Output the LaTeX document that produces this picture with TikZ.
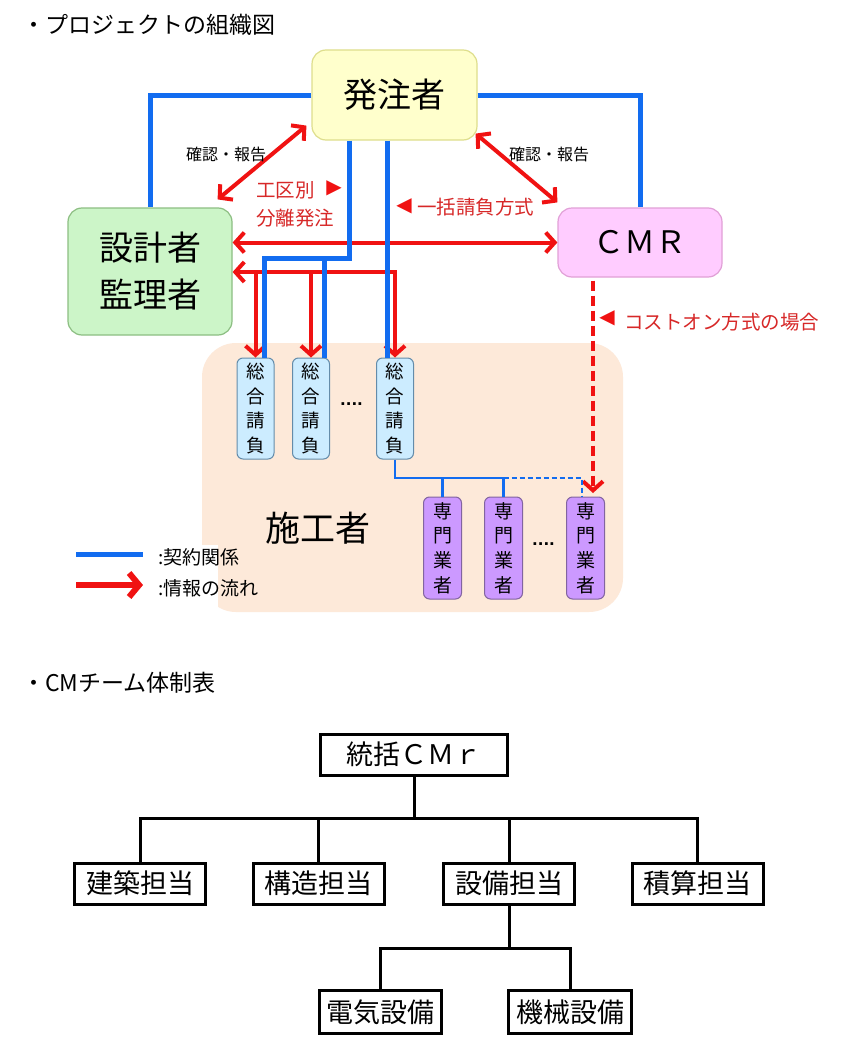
\documentclass[tikz,border=0pt]{standalone}
\usepackage{fontspec}
\setmainfont{Noto Sans CJK JP}
\newfontfamily\dejavu{DejaVu Sans}
\usetikzlibrary{arrows.meta,calc}
\newcommand\myfs[2]{\fontsize{#1}{#2}\selectfont}
\definecolor{cblue}{RGB}{18,108,240}
\definecolor{cred}{RGB}{240,18,18}
\definecolor{ctext}{RGB}{215,40,40}
\definecolor{yfill}{RGB}{255,255,204}
\definecolor{ydraw}{RGB}{222,222,140}
\definecolor{gfill}{RGB}{204,245,200}
\definecolor{gdraw}{RGB}{140,190,130}
\definecolor{pfill}{RGB}{255,204,255}
\definecolor{pdraw}{RGB}{225,160,215}
\definecolor{sfill}{RGB}{253,233,217}
\definecolor{bfill}{RGB}{204,236,255}
\definecolor{bdraw}{RGB}{100,140,170}
\definecolor{mfill}{RGB}{204,153,255}
\definecolor{mdraw}{RGB}{130,100,160}
\begin{document}
\begin{tikzpicture}[x=1pt,y=-1pt,
  >={Straight Barb[length=9pt,width=20pt]},
  rbox/.style={rounded corners=14pt, line width=1.2pt, inner sep=0pt, align=center},
  sogo/.style={draw=bdraw, fill=bfill, rounded corners=6pt, line width=1pt, minimum width=37pt, minimum height=101pt, inner sep=0pt, align=center, font=\myfs{18.5}{24.7}},
  senmon/.style={draw=mdraw, fill=mfill, rounded corners=6pt, line width=1pt, minimum width=38pt, minimum height=102pt, inner sep=0pt, align=center, font=\myfs{19}{24.7}},
  infoline/.style={draw=cred, line width=4pt},
  cline/.style={draw=cblue, line width=5pt},
  tline/.style={draw=cblue, line width=2.5pt},
  redlabel/.style={text=ctext, inner sep=0pt, anchor=west, font=\myfs{19.5}{22}},
  tri/.style={text=cred, inner sep=0pt, font=\dejavu\myfs{20}{20}},
  blacklabel/.style={inner sep=0pt, anchor=west, font=\myfs{16}{18}},
  obox/.style={draw=black, line width=3pt, fill=white, inner sep=0pt, minimum height=41pt, font=\myfs{27}{30}},
  oline/.style={draw=black, line width=3pt},
  title/.style={inner sep=0pt, anchor=west, font=\myfs{23}{25}}
]
\fill[white] (0,0) rectangle (855,1049);
\useasboundingbox (0,0) rectangle (855,1049);

% titles
\node[title] (t1) at (22,25) {・プロジェクトの組織図};
\node[title] (t2) at (22,683) {・CMチーム体制表};

% constructor region
\node[fill=sfill, rounded corners=34pt, minimum width=421pt, minimum height=269pt, inner sep=0pt] (sekou) at (412.5,477.5) {};
\fill[white] (60,545) rectangle (218,615);
\node[inner sep=0pt, font=\myfs{35}{36}] (sekoulbl) at (318,528) {施工者};

% main boxes
\node[rbox, fill=yfill, draw=ydraw, minimum width=165pt, minimum height=90pt, font=\myfs{34}{36}] (hatchu) at (394.5,95) {発注者};
\node[rbox, fill=gfill, draw=gdraw, minimum width=164pt, minimum height=127pt, font=\myfs{34}{47}] (sekkei) at (150,271.5) {設計者\\監理者};
\node[rbox, fill=pfill, draw=pdraw, minimum width=164pt, minimum height=69pt, font=\myfs{31}{32}] (cmr) at (640,242.5) {ＣＭＲ};

% general contractors
\node[sogo] (s1) at (255.5,408.5) {総\\合\\請\\負};
\node[sogo] (s2) at (311,408.5) {総\\合\\請\\負};
\node[sogo] (s3) at (395,408.5) {総\\合\\請\\負};
\node[inner sep=0pt, anchor=base, font=\dejavu\bfseries\myfs{15}{15}] (dots1) at (351.5,405) {....};

% specialists
\node[senmon] (m1) at (442.5,548) {専\\門\\業\\者};
\node[senmon] (m2) at (503.5,548) {専\\門\\業\\者};
\node[senmon] (m3) at (585.5,548) {専\\門\\業\\者};
\node[inner sep=0pt, anchor=base, font=\dejavu\bfseries\myfs{15}{15}] (dots2) at (543.5,545) {....};

% red information flows
\coordinate (rj) at (0,272);
\draw[infoline,<->] (sekkei.east |- rj) -- (s3.north |- rj) -- (s3.north);
\draw[infoline,->] (s1.north |- rj) -- (s1.north);
\draw[infoline,->] (s2.north |- rj) -- (s2.north);
\draw[infoline,<->] (sekkei.east |- cmr.west) -- (cmr.west);
\draw[infoline,<->] ([shift={(-5,-15)}]hatchu.south west) -- ([shift={(-15,-8)}]sekkei.north east);
\draw[infoline,<->] ([shift={(-2,-7)}]hatchu.south east) -- ([shift={(0,-5)}]cmr.north west);
\coordinate (dtip) at (593,493);
\draw[infoline,dash pattern=on 10pt off 5pt,->] ([yshift=-3pt]cmr.south -| dtip) -- (dtip);

% blue contract lines
\draw[cline] (hatchu.west) -| (sekkei.north);
\draw[cline] (hatchu.east) -| (cmr.north);
\coordinate (bj) at (349,258);
\coordinate (s1b) at ([xshift=9pt]s1.north);
\coordinate (s2b) at ([xshift=13pt]s2.north);
\coordinate (s3b) at ([xshift=-8pt]s3.north);
\draw[cline] (hatchu.south -| bj) -- (bj) -- (s1b |- bj) -- (s1b);
\draw[cline] (s2b |- bj) -- (s2b);
\draw[cline] (hatchu.south -| s3b) -- (s3b);

% thin blue lines to specialists
\coordinate (tj) at (0,478);
\coordinate (m3b) at ([xshift=-3.5pt]m3.north);
\draw[tline] (s3.south) |- (m2.north |- tj) -- (m2.north);
\draw[tline] (m1.north |- tj) -- (m1.north);
\draw[tline,dash pattern=on 5pt off 3pt] (m2.north |- tj) -| (m3b);

% labels
\node[blacklabel] (kk1) at (186,154) {確認・報告};
\node[blacklabel] (kk2) at (509,154) {確認・報告};
\node[redlabel] (kobetsu) at (256,190) {工区別};
\node[tri] (tri1) at (334,188) {▶};
\node[redlabel] (bunri) at (256,218) {分離発注};
\node[tri] (tri2) at (404,206) {◀};
\node[redlabel] (ikkatsu) at (417,207) {一括請負方式};
\node[tri] (tri3) at (607,318) {◀};
\node[redlabel] (coston) at (624,322) {コストオン方式の場合};

% legend
\coordinate (la1) at (76,554);
\coordinate (la2) at (143,554);
\coordinate (lb1) at (76,585);
\coordinate (lb2) at (143,585);
\draw[cline] (la1) -- (la2);
\draw[draw=cred, line width=6pt, arrows={-Straight Barb[length=10pt,width=24pt]}] (lb1) -- (lb2);
\node[inner sep=0pt, anchor=west, font=\myfs{19}{21}] (leg1) at (158,557) {:契約関係};
\node[inner sep=0pt, anchor=west, font=\myfs{19}{21}] (leg2) at (158,588) {:情報の流れ};

% CM team chart
\node[obox, minimum width=187pt] (top) at (414,754.5) {統括ＣＭｒ};
\node[obox, minimum width=131pt] (a1) at (140,883.5) {建築担当};
\node[obox, minimum width=131pt] (a2) at (318.5,883.5) {構造担当};
\node[obox, minimum width=131pt] (a3) at (509,883.5) {設備担当};
\node[obox, minimum width=131pt] (a4) at (697.5,883.5) {積算担当};
\node[obox, minimum width=122pt, minimum height=43pt] (b1) at (380.5,1012) {電気設備};
\node[obox, minimum width=123pt, minimum height=43pt] (b2) at (570,1012) {機械設備};
\coordinate (h1) at (0,818);
\coordinate (h2) at (0,948);
\draw[oline] (top.south) -- (top.south |- h1);
\draw[oline] (a1.north) |- (top.south |- h1) -| (a4.north);
\draw[oline] (a2.north) -- (a2.north |- h1);
\draw[oline] (a3.north) -- (a3.north |- h1);
\draw[oline] (a3.south) -- (a3.south |- h2);
\draw[oline] (b1.north) |- (a3.south |- h2) -| (b2.north);
\end{tikzpicture}
\end{document}
